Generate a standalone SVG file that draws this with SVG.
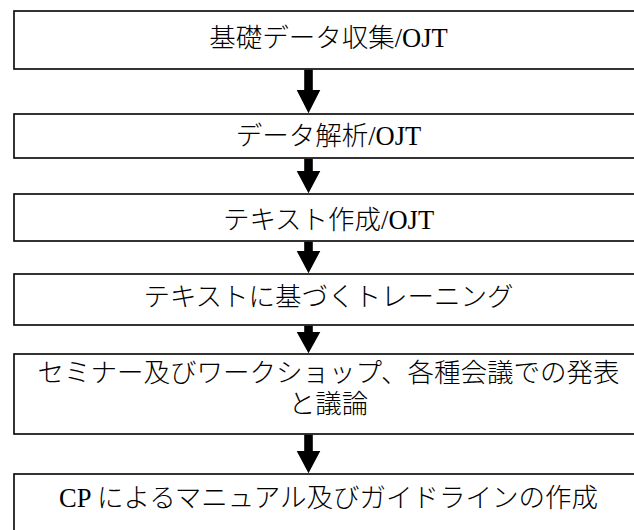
<svg xmlns="http://www.w3.org/2000/svg" width="634" height="530" viewBox="0 0 634 530">
<style>
.box{fill:#fff;stroke:#000;stroke-width:1.6}
.lbl{font-family:"Liberation Serif","Noto Sans CJK JP",serif;font-size:26.5px;font-weight:300;fill:#000;text-anchor:middle}
.arr{fill:#000;stroke:none}
</style>
<rect x="0" y="0" width="634" height="530" fill="#fff"/>
<g id="node1"><rect class="box" x="14" y="11" width="630" height="58"/><text class="lbl" x="328.5" y="47">基礎データ収集/OJT</text></g>
<g id="node2"><rect class="box" x="14" y="114" width="630" height="44"/><text class="lbl" x="328.5" y="145">データ解析/OJT</text></g>
<g id="node3"><rect class="box" x="14" y="194" width="630" height="47"/><text class="lbl" x="328.5" y="229">テキスト作成/OJT</text></g>
<g id="node4"><rect class="box" x="14" y="274" width="630" height="51"/><text class="lbl" x="328.5" y="306">テキストに基づくトレーニング</text></g>
<g id="node5"><rect class="box" x="14" y="354" width="630" height="80"/><text class="lbl" x="328.5" y="382">セミナー及びワークショップ、各種会議での発表</text><text class="lbl" x="328.5" y="413">と議論</text></g>
<g id="node6"><rect class="box" x="14" y="474" width="630" height="70"/><text class="lbl" x="328.5" y="507">CP によるマニュアル及びガイドラインの作成</text></g>
<g id="connectors">
<polygon class="arr" points="304.2,69.8 312.8,69.8 312.8,90 320.3,90 308.5,113.2 296.7,90 304.2,90"/>
<polygon class="arr" points="304.2,158.8 312.8,158.8 312.8,171 320.3,171 308.5,193.2 296.7,171 304.2,171"/>
<polygon class="arr" points="304.2,241.8 312.8,241.8 312.8,251 320.3,251 308.5,273.2 296.7,251 304.2,251"/>
<polygon class="arr" points="304.2,325.8 312.8,325.8 312.8,332 320.3,332 308.5,353.2 296.7,332 304.2,332"/>
<polygon class="arr" points="304.2,434.8 312.8,434.8 312.8,451 320.3,451 308.5,473.2 296.7,451 304.2,451"/>
</g>
</svg>
